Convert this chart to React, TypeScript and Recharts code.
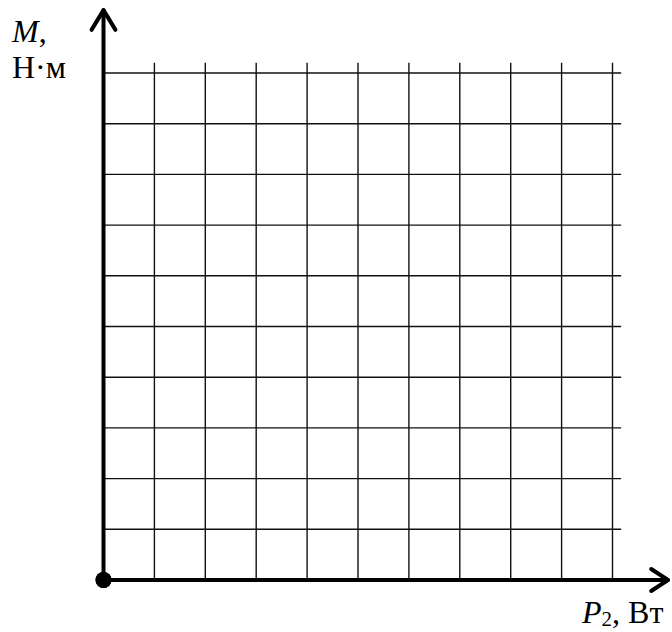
import React from 'react';
import { ScatterChart, Scatter, XAxis, YAxis, ReferenceLine, ReferenceDot, Customized } from 'recharts';

// Grid divisions (power P2 on x, torque M on y), no plotted data besides the origin
const xGrid = [1, 2, 3, 4, 5, 6, 7, 8, 9, 10];
const yGrid = [1, 2, 3, 4, 5, 6, 7, 8, 9, 10];
const originPoint = [{ p: 0, m: 0 }];
const xLabelMain = 'P';
const xLabelSub = '2';
const xLabelUnit = ', Вт';
const yLabelMain = 'M';
const yLabelUnit = 'Н·м';

// extents (in axis units) of grid overhang and arrows
const gridTop = 10.2;
const gridRight = 10.17;
const yArrowTip = 11.24;
const yArrowWingY = 10.85;
const yArrowWingDx = 0.235;
const xArrowTip = 11.09;
const xArrowWingX = 10.76;
const xArrowWingDy = 0.217;

const FONT = "'Liberation Serif', 'Times New Roman', serif";

const Labels = () => (
  <g fontFamily={FONT} fill="#000">
    <text x={12} y={42} fontSize={32} fontStyle="italic">
      {yLabelMain}
      <tspan fontStyle="normal">,</tspan>
    </text>
    <text x={12} y={78} fontSize={32}>
      {yLabelUnit}
    </text>
    <text x={582} y={623} fontSize={32}>
      <tspan fontStyle="italic">{xLabelMain}</tspan>
      <tspan fontSize={21} dy={3}>{xLabelSub}</tspan>
      <tspan dy={-3}>{xLabelUnit}</tspan>
    </text>
  </g>
);

export default function App() {
  return (
    <div style={{ position: 'absolute', left: 0, top: 0, width: 672, height: 632, background: '#fff' }}>
      <ScatterChart width={672} height={632} margin={{ top: 73, right: 59.5, bottom: 52, left: 103.5 }}>
        <XAxis type="number" dataKey="p" domain={[0, 10]} hide />
        <YAxis type="number" dataKey="m" domain={[0, 10]} hide />
        {xGrid.map((x) => (
          <ReferenceLine
            key={'vx' + x}
            segment={[{ x, y: 0 }, { x, y: gridTop }]}
            stroke="#111"
            strokeWidth={1.4}
            ifOverflow="visible"
          />
        ))}
        {yGrid.map((y) => (
          <ReferenceLine
            key={'hy' + y}
            segment={[{ x: 0, y }, { x: gridRight, y }]}
            stroke="#111"
            strokeWidth={1.4}
            ifOverflow="visible"
          />
        ))}
        {/* Y axis with arrow */}
        <ReferenceLine segment={[{ x: 0, y: 0 }, { x: 0, y: yArrowTip - 0.05 }]} stroke="#000" strokeWidth={4} ifOverflow="visible" />
        <ReferenceLine segment={[{ x: -yArrowWingDx, y: yArrowWingY }, { x: 0, y: yArrowTip }]} stroke="#000" strokeWidth={4} strokeLinecap="round" ifOverflow="visible" />
        <ReferenceLine segment={[{ x: yArrowWingDx, y: yArrowWingY }, { x: 0, y: yArrowTip }]} stroke="#000" strokeWidth={4} strokeLinecap="round" ifOverflow="visible" />
        {/* X axis with arrow */}
        <ReferenceLine segment={[{ x: 0, y: 0 }, { x: xArrowTip - 0.05, y: 0 }]} stroke="#000" strokeWidth={4} ifOverflow="visible" />
        <ReferenceLine segment={[{ x: xArrowWingX, y: xArrowWingDy }, { x: xArrowTip, y: 0 }]} stroke="#000" strokeWidth={4} strokeLinecap="round" ifOverflow="visible" />
        <ReferenceLine segment={[{ x: xArrowWingX, y: -xArrowWingDy }, { x: xArrowTip, y: 0 }]} stroke="#000" strokeWidth={4} strokeLinecap="round" ifOverflow="visible" />
        <Scatter
          data={originPoint}
          isAnimationActive={false}
          fill="#000"
          shape={(props: any) => <circle cx={props.cx} cy={props.cy} r={8} fill="#000" />}
        />
        <ReferenceDot x={originPoint[0].p} y={originPoint[0].m} r={8} fill="#000" stroke="none" ifOverflow="visible" />
        <Customized component={Labels} />
      </ScatterChart>
    </div>
  );
}
